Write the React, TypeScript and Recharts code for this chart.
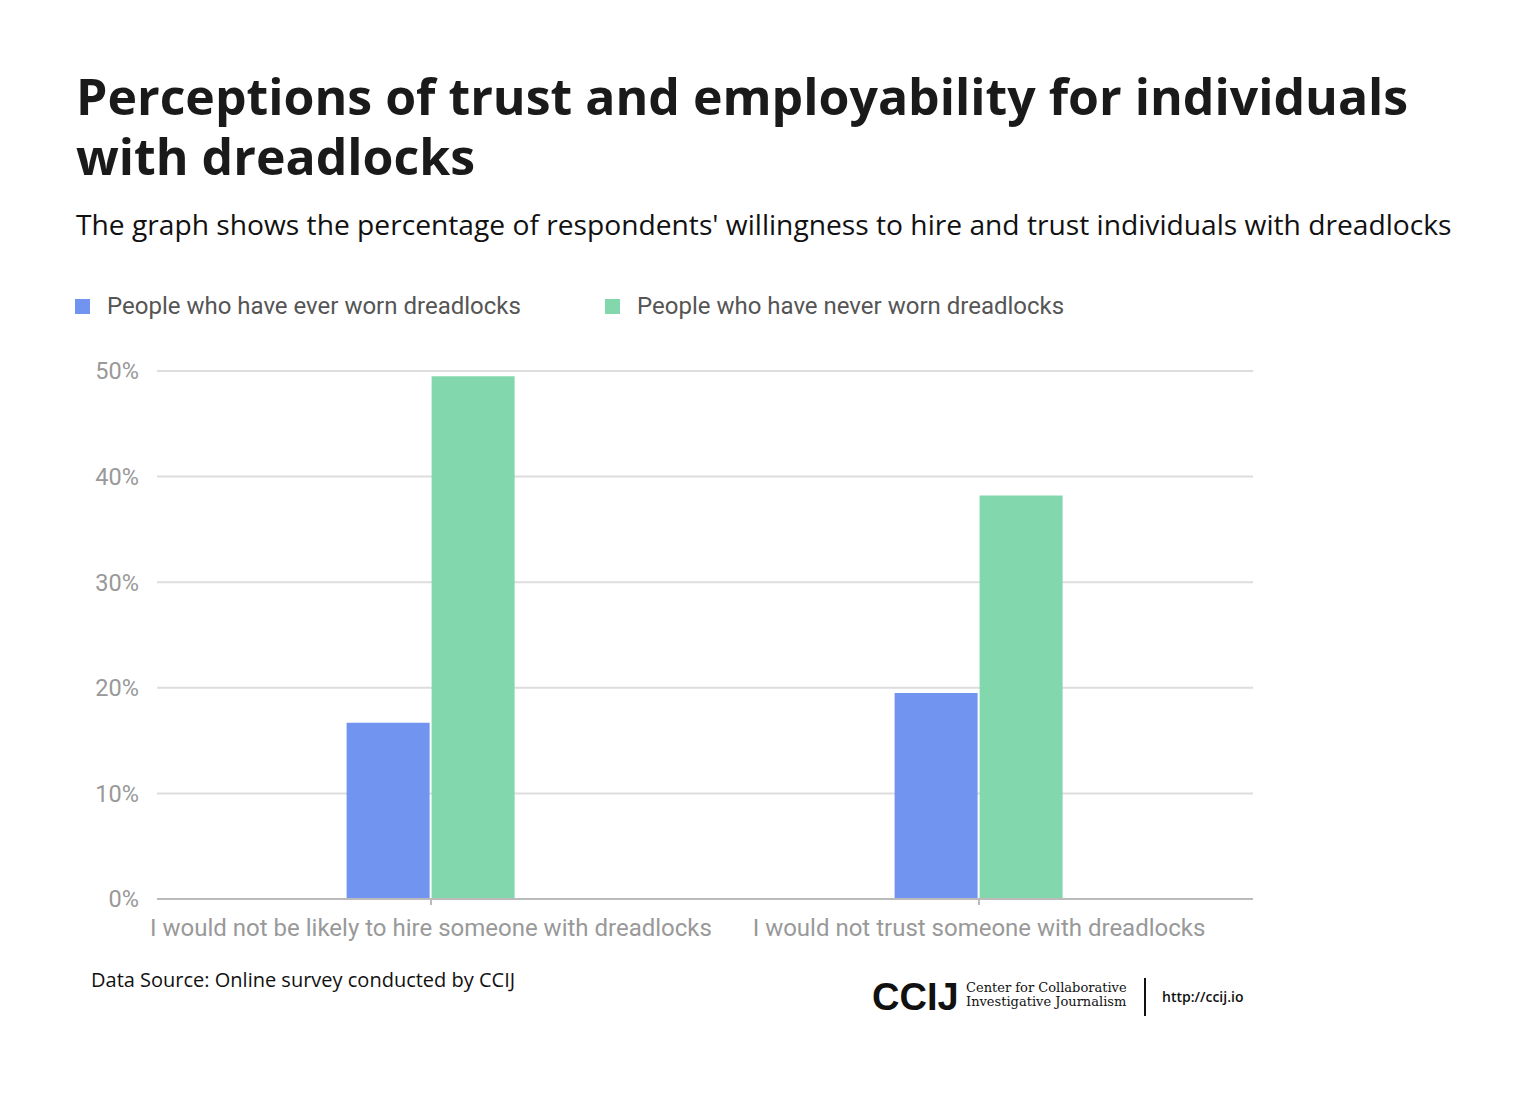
import React from 'react'
import { BarChart, Bar, XAxis, YAxis, CartesianGrid } from 'recharts'

const categories = [
  'I would not be likely to hire someone with dreadlocks',
  'I would not trust someone with dreadlocks',
]
const everWorn = [16.7, 19.5]
const neverWorn = [49.5, 38.2]
const yTicks = [0, 10, 20, 30, 40, 50]

const seriesNames = ['People who have ever worn dreadlocks', 'People who have never worn dreadlocks']
const BLUE = '#7094f0'
const GREEN = '#82d8ac'

const data = categories.map((name, i) => ({ name, ever: everWorn[i], never: neverWorn[i] }))

const sans = '"Open Sans", "Noto Sans", sans-serif'
const roboto = 'Roboto, sans-serif'

export default function App() {
  return (
    <div style={{ position: 'absolute', left: 0, top: 0, width: 1530, height: 1104, background: '#fff', fontFamily: sans }}>
      <div style={{ position: 'absolute', left: 76, top: 66, width: 1440, fontSize: 50, fontWeight: 700, lineHeight: '60px', color: '#1a1a1a' }}>
        Perceptions of trust and employability for individuals with dreadlocks
      </div>
      <div style={{ position: 'absolute', left: 76, top: 205, fontSize: 28.2, color: '#111', whiteSpace: 'nowrap' }}>
        The graph shows the percentage of respondents' willingness to hire and trust individuals with dreadlocks
      </div>

      {/* legend */}
      {seriesNames.map((s, i) => (
        <div key={s} style={{ position: 'absolute', left: i === 0 ? 75 : 605, top: 292, display: 'flex', alignItems: 'center', fontFamily: roboto, fontSize: 24, color: '#555', whiteSpace: 'nowrap' }}>
          <span style={{ width: 15, height: 15, background: i === 0 ? BLUE : GREEN, marginRight: 17, display: 'inline-block' }} />
          {s}
        </div>
      ))}

      <div style={{ position: 'absolute', left: 0, top: 350 }}>
        <BarChart
          width={1530}
          height={620}
          data={data}
          margin={{ top: 21, right: 277, bottom: 21, left: 77 }}
          barCategoryGap="34.6%"
          barGap={2}
        >
          <CartesianGrid vertical={false} stroke="#dddddd" strokeWidth={2} />
          <XAxis
            dataKey="name"
            height={50}
            tickSize={6}
            tickMargin={14}
            axisLine={{ stroke: '#bbbbbb', strokeWidth: 2 }}
            tickLine={{ stroke: '#bbbbbb', strokeWidth: 2 }}
            tick={{ fill: '#999', fontSize: 24, fontFamily: roboto }}
            interval={0}
          />
          <YAxis
            domain={[0, 50]}
            ticks={yTicks}
            width={80}
            axisLine={false}
            tickLine={false}
            tickSize={0}
            tickMargin={18}
            tickFormatter={(v) => `${v}%`}
            tick={{ fill: '#999', fontSize: 23.5, fontFamily: roboto }}
          />
          <Bar dataKey="ever" name={seriesNames[0]} fill={BLUE} isAnimationActive={false} />
          <Bar dataKey="never" name={seriesNames[1]} fill={GREEN} isAnimationActive={false} />
        </BarChart>
      </div>

      <div style={{ position: 'absolute', left: 91, top: 966, fontSize: 20, color: '#111', whiteSpace: 'nowrap' }}>
        Data Source: Online survey conducted by CCIJ
      </div>

      {/* logo */}
      <div style={{ position: 'absolute', left: 872, top: 975, fontFamily: '"Liberation Sans", Arial, sans-serif', fontSize: 38, fontWeight: 900, color: '#111', letterSpacing: 0, lineHeight: '44px' }}>
        CCIJ
      </div>
      <div style={{ position: 'absolute', left: 966, top: 981, fontFamily: '"DejaVu Serif", "Liberation Serif", serif', fontSize: 13, color: '#111', lineHeight: '14px', whiteSpace: 'nowrap' }}>
        Center for Collaborative
        <br />
        Investigative Journalism
      </div>
      <div style={{ position: 'absolute', left: 1144, top: 978, width: 2, height: 38, background: '#111' }} />
      <div style={{ position: 'absolute', left: 1162, top: 987, fontFamily: sans, fontSize: 14, fontWeight: 600, color: '#111', whiteSpace: 'nowrap' }}>
        http://ccij.io
      </div>
    </div>
  )
}
